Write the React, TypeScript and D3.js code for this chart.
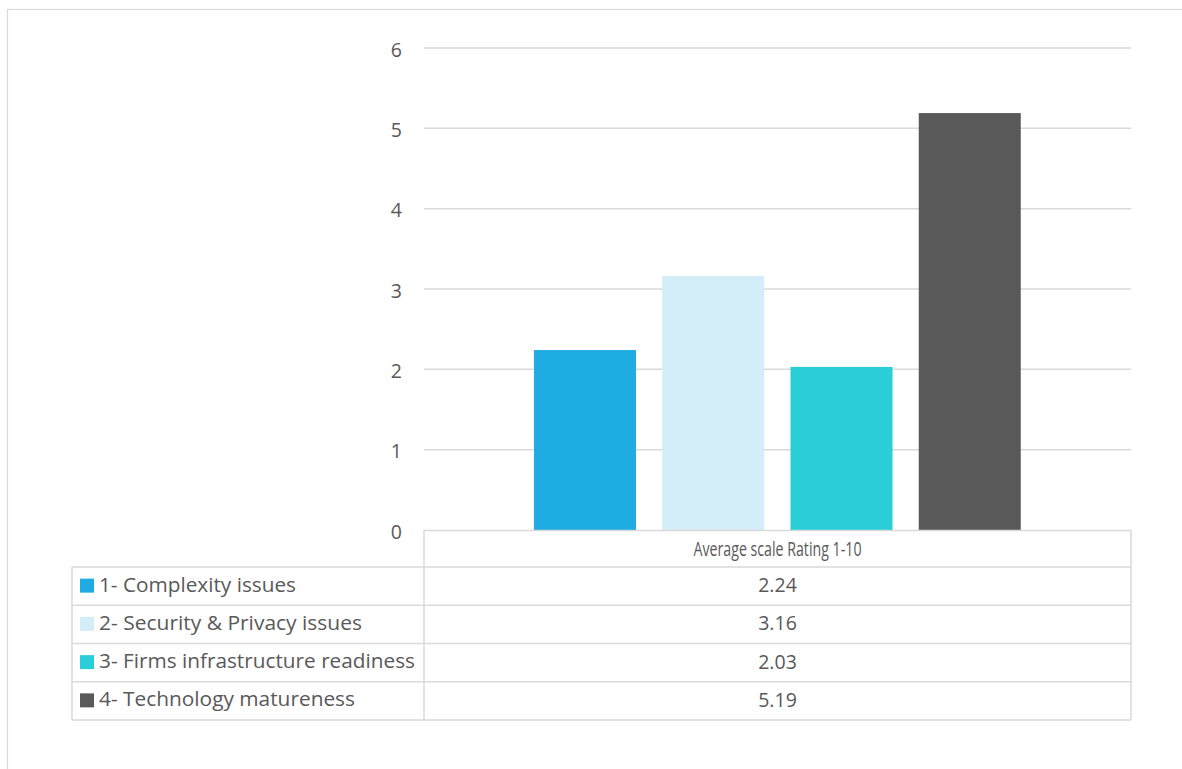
import React from "react";
import * as d3 from "d3";

const categories = ["1- Complexity issues", "2- Security & Privacy issues", "3- Firms infrastructure readiness", "4- Technology matureness"];
const values = [2.24, 3.16, 2.03, 5.19];
const valueLabels = ["2.24", "3.16", "2.03", "5.19"];
const colors = ["#1EACE3", "#D3EEF8", "#29CED8", "#595959"];
const yTicks = [0, 1, 2, 3, 4, 5, 6];
const groupLabel = "Average scale Rating 1-10";
const legendWidths = [197, 263, 316, 256];

const W = 1182;
const H = 769;
const FONT = "'Open Sans', Lato, sans-serif";
const FS = 19.5;
const TEXT = "#595959";
const GRID = "#d9d9d9";

export default function App() {
  const plotLeft = 424;
  const plotRight = 1131;
  const y = d3.scaleLinear().domain([0, 6]).range([530, 48]);
  const band = d3.scaleBand<string>().domain(categories).range([534, 1021 + 26]).paddingInner(0).paddingOuter(0);
  const barW = 102;
  const tableLeft = 72;
  const rowH = 38.25;
  const headerTop = 530;
  const headerBottom = 567;
  const rowY = (i: number) => headerBottom + i * rowH;
  const tableBottom = rowY(categories.length);

  return (
    <div style={{ position: "absolute", left: 0, top: 0, width: W, height: H, background: "#fff" }}>
      <svg width={W} height={H} style={{ display: "block" }}>
        <rect x={7.5} y={9.5} width={W + 10} height={H + 10} fill="#fff" stroke={GRID} strokeWidth={1.2} />
        {yTicks.map((t) => (
          <g key={t}>
            {t > 0 && (
              <line x1={plotLeft} x2={plotRight} y1={y(t)} y2={y(t)} stroke={GRID} strokeWidth={1.5} />
            )}
            <text x={402} y={y(t) + 8.5} textAnchor="end" fontFamily={FONT} fontSize={FS} fill={TEXT}>
              {t}
            </text>
          </g>
        ))}
        {categories.map((c, i) => (
          <rect key={c} x={band(c)!} y={y(values[i])} width={barW} height={y(0) - y(values[i])} fill={colors[i]} />
        ))}
        {/* table */}
        <g fill="none" stroke={GRID} strokeWidth={1.5}>
          <line x1={plotLeft} x2={plotRight} y1={headerTop + 0.5} y2={headerTop + 0.5} />
          <line x1={plotLeft} x2={plotLeft} y1={headerTop} y2={tableBottom} />
          <line x1={plotRight} x2={plotRight} y1={headerTop} y2={tableBottom} />
          <line x1={tableLeft} x2={tableLeft} y1={headerBottom} y2={tableBottom} />
          {d3.range(categories.length + 1).map((i) => (
            <line key={i} x1={tableLeft} x2={plotRight} y1={rowY(i)} y2={rowY(i)} />
          ))}
        </g>
        <text
          x={(plotLeft + plotRight) / 2}
          y={headerTop + 25.5}
          textAnchor="middle"
          fontFamily={FONT}
          fontSize={FS}
          fill={TEXT}
          textLength={168}
          lengthAdjust="spacingAndGlyphs"
        >
          {groupLabel}
        </text>
        {categories.map((c, i) => {
          const top = rowY(i);
          const cy = top + rowH / 2;
          return (
            <g key={c}>
              <rect x={80} y={cy - 7.5} width={14} height={14} fill={colors[i]} />
              <text
                x={99}
                y={top + 24.5}
                fontFamily={FONT}
                fontSize={FS}
                fill={TEXT}
                textLength={legendWidths[i]}
                lengthAdjust="spacingAndGlyphs"
              >
                {c}
              </text>
              <text x={(plotLeft + plotRight) / 2} y={top + 25} textAnchor="middle" fontFamily={FONT} fontSize={FS} fill={TEXT}>
                {valueLabels[i]}
              </text>
            </g>
          );
        })}
      </svg>
    </div>
  );
}
